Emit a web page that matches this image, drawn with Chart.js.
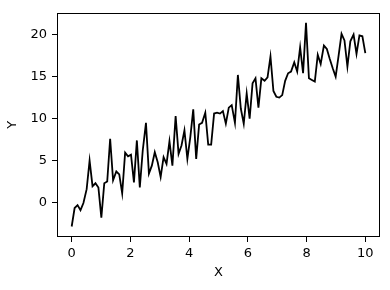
<!DOCTYPE html>
<html><head><meta charset="utf-8">
<script src="https://cdn.jsdelivr.net/npm/chart.js@4"></script>
<style>html,body{margin:0;padding:0;background:#fff}#wrap{width:390px;height:290px}</style>
</head><body><div id="wrap"><canvas id="c" width="390" height="290"></canvas></div>
<script>
const xValues = [0,0.10,0.20,0.30,0.40,0.51,0.61,0.71,0.81,0.91,
1.01,1.11,1.21,1.31,1.41,1.52,1.62,1.72,1.82,1.92,
2.02,2.12,2.22,2.32,2.42,2.53,2.63,2.73,2.83,2.93,
3.03,3.13,3.23,3.33,3.43,3.54,3.64,3.74,3.84,3.94,
4.04,4.14,4.24,4.34,4.44,4.55,4.65,4.75,4.85,4.95,
5.05,5.15,5.25,5.35,5.45,5.56,5.66,5.76,5.86,5.96,
6.06,6.16,6.26,6.36,6.46,6.57,6.67,6.77,6.87,6.97,
7.07,7.17,7.27,7.37,7.47,7.58,7.68,7.78,7.88,7.98,
8.08,8.18,8.28,8.38,8.48,8.59,8.69,8.79,8.89,8.99,
9.09,9.19,9.29,9.39,9.49,9.60,9.70,9.80,9.90,10];
const yValues = [-2.85,-0.65,-0.3,-0.9,-0.05,1.6,5.0,1.95,2.3,1.8,
-1.8,2.3,2.5,7.6,2.65,3.7,3.35,1.1,5.95,5.5,
5.7,2.4,7.4,1.8,6.2,9.5,3.45,4.4,6.0,4.8,
3.05,5.4,4.6,7.3,4.4,10.3,5.8,6.8,8.6,5.2,
7.8,11.1,5.2,9.3,9.5,10.7,6.9,6.9,10.6,10.7,
10.6,10.9,9.4,11.3,11.6,9.5,15.2,11.2,9.4,13.0,
10.0,14.2,14.8,11.3,14.8,14.5,14.9,17.4,13.3,12.6,
12.5,12.8,14.5,15.4,15.6,16.7,15.6,18.5,15.4,21.4,
14.8,14.6,14.4,17.6,16.5,18.7,18.3,17.1,16.0,15.0,
17.5,20.1,19.3,16.2,19.2,20.0,17.7,19.9,19.8,17.8];
const xTicks = [0,2,4,6,8,10];
const yTicks = [0,5,10,15,20];
const xLabel = 'X';
const yLabel = 'Y';

const points = xValues.map((x,i)=>({x:x,y:yValues[i]}));
const font = {family:'DejaVu Sans', size:13};

const frame = {
  id:'frame',
  afterDraw(chart){
    const a = chart.chartArea, ctx = chart.ctx;
    ctx.save();
    ctx.strokeStyle = '#000';
    ctx.lineWidth = 1;
    ctx.strokeRect(Math.round(a.left)+0.5, Math.round(a.top)+0.5, Math.round(a.right-a.left)-1, Math.round(a.bottom-a.top)-1);
    ctx.restore();
  }
};

new Chart(document.getElementById('c'), {
  type:'line',
  data:{datasets:[{data:points, borderColor:'#000', borderWidth:1.8, pointRadius:0, tension:0, fill:false}]},
  options:{
    responsive:false, animation:false, devicePixelRatio:1,
    layout:{padding:{left:0, top:10, right:10, bottom:0}},
    plugins:{legend:{display:false}, tooltip:{enabled:false}},
    scales:{
      x:{type:'linear', min:-0.5, max:10.5,
        afterBuildTicks(s){ s.ticks = xTicks.map(v=>({value:v})); },
        afterFit(s){ s.height = 53; },
        grid:{drawOnChartArea:false, drawTicks:true, tickLength:5, color:'#000', lineWidth:1},
        border:{display:false},
        ticks:{color:'#000', font:font, padding:4, maxRotation:0, callback:v=>String(v)},
        title:{display:true, text:xLabel, color:'#000', font:font, padding:{top:0,bottom:10}}
      },
      y:{type:'linear', min:-4.1, max:22.6,
        afterBuildTicks(s){ s.ticks = yTicks.map(v=>({value:v})); },
        afterFit(s){ s.width = 57; },
        grid:{drawOnChartArea:false, drawTicks:true, tickLength:5, color:'#000', lineWidth:1},
        border:{display:false},
        ticks:{color:'#000', font:font, padding:5, callback:v=>String(v)},
        title:{display:true, text:yLabel, color:'#000', font:font, padding:{top:5,bottom:0}}
      }
    }
  },
  plugins:[frame]
});
</script></body></html>
